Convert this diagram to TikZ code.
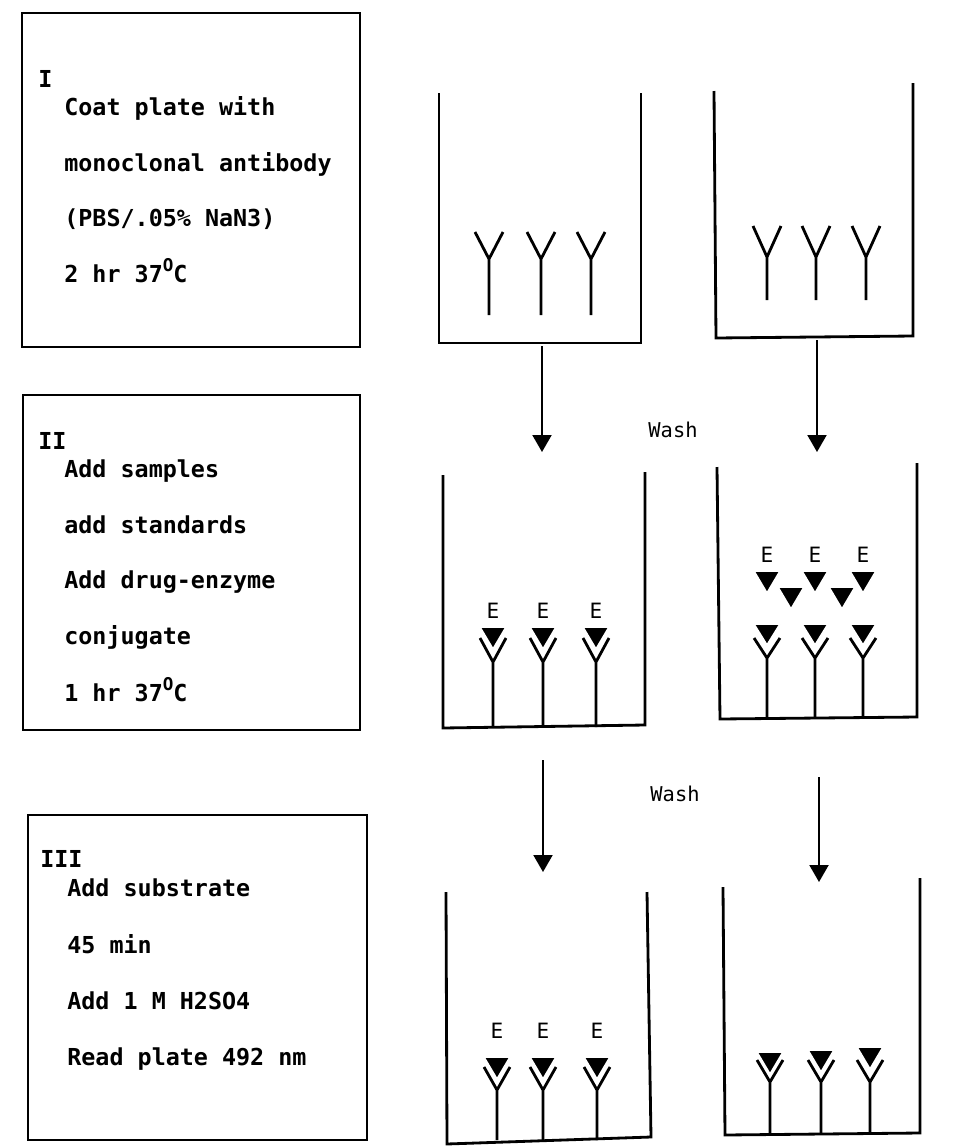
\documentclass[tikz,border=0pt]{standalone}
\usepackage{fontspec}
\newfontfamily\typefont{DejaVu Sans Mono}
\usetikzlibrary{arrows.meta}

\begin{document}
\begin{tikzpicture}[x=0.02cm, y=-0.02cm,
    stepbox/.style={rectangle, draw=black, line width=1.3pt, inner sep=0pt},
    steptxt/.style={anchor=base west, inner sep=0pt,
                    font=\typefont\bfseries\fontsize{13.3}{16}\selectfont},
    well/.style={line width=1.6pt, line join=miter},
    ab/.style={line width=1.6pt},
    enz/.style={fill=black, draw=white, line width=0.9pt, line join=miter},
    elab/.style={anchor=base, inner sep=0pt, font=\typefont\fontsize{12}{14}\selectfont},
    flow/.style={-{Triangle[length=0.34cm, width=0.38cm]}, line width=1.2pt},
    washlab/.style={inner sep=0pt, font=\typefont\fontsize{11.6}{14}\selectfont}
]
\useasboundingbox (0,0) rectangle (979,1147);

% --- step boxes on the left ---
\node[stepbox, minimum width=6.76cm, minimum height=6.68cm] (boxI)   at (191,180) {};
\node[stepbox, minimum width=6.74cm, minimum height=6.70cm] (boxII)  at (191.5,562.5) {};
\node[stepbox, minimum width=6.78cm, minimum height=6.50cm] (boxIII) at (197.5,977.5) {};

\newcommand{\degC}{\raisebox{0.45em}{\fontsize{10}{10}\selectfont O}C}

% --- step texts ---
\node[steptxt] (numI) at (38,87) {I};
\foreach \t/\y [count=\i] in {{Coat plate with}/115, {monoclonal antibody}/171,
                              {(PBS/.05\% NaN3)}/226, {2 hr 37\degC}/282}
  \node[steptxt] (txtI-\i) at (64,\y) {\t};

\node[steptxt] (numII) at (38,449) {II};
\foreach \t/\y [count=\i] in {{Add samples}/477, {add standards}/533,
                              {Add drug-enzyme}/588, {conjugate}/644, {1 hr 37\degC}/701}
  \node[steptxt] (txtII-\i) at (64,\y) {\t};

\node[steptxt] (numIII) at (40,867) {III};
\foreach \t/\y [count=\i] in {{Add substrate}/896, {45 min}/953,
                              {Add 1 M H2SO4}/1009, {Read plate 492 nm}/1065}
  \node[steptxt] (txtIII-\i) at (67,\y) {\t};

% --- wells ---
\draw[well] (439,93)  -- (439,343)  -- (641,343)  -- (641,93);
\draw[well] (714,91)  -- (716,338)  -- (913,336)  -- (913,83);
\draw[well] (443,475) -- (443,728)  -- (645,725)  -- (645,472);
\draw[well] (717,467) -- (720,719)  -- (917,717)  -- (917,463);
\draw[well] (446,892) -- (447,1144) -- (651,1137) -- (647,892);
\draw[well] (723,887) -- (725,1135) -- (920,1133) -- (920,878);

% --- row 1: coated antibodies ---
\foreach \x in {489,541,591}
  \draw[ab] (\x,315) -- (\x,259) -- +(-14,-27) (\x,259) -- +(14,-27);
\foreach \x in {767,816,866}
  \draw[ab] (\x,300) -- (\x,257) -- +(-14,-31) (\x,257) -- +(14,-31);

% --- row 2: bound and free conjugate ---
\foreach \x in {493,543,596} {
  \draw[ab] (\x,727) -- (\x,662) -- +(-13,-24) (\x,662) -- +(13,-24);
  \filldraw[enz] ({\x-13},627) -- ({\x+13},627) -- (\x,649) -- cycle;
  \node[elab] (eC\x) at (\x,618) {E};
}
\foreach \x in {767,815,863} {
  \draw[ab] (\x,718) -- (\x,658) -- +(-13,-20) (\x,658) -- +(13,-20);
  \filldraw[enz] ({\x-13},624) -- ({\x+13},624) -- (\x,645) -- cycle;
  \filldraw[enz] ({\x-13},571) -- ({\x+13},571) -- (\x,593) -- cycle;
  \node[elab] (eD\x) at (\x,562) {E};
}
\foreach \x in {791,842}
  \filldraw[enz] ({\x-13},587) -- ({\x+13},587) -- (\x,609) -- cycle;

% --- row 3: after substrate ---
\foreach \x in {497,543,597} {
  \draw[ab] (\x,1140) -- (\x,1090) -- +(-13,-23) (\x,1090) -- +(13,-23);
  \filldraw[enz] ({\x-13},1057) -- ({\x+13},1057) -- (\x,1079) -- cycle;
  \node[elab] (eE\x) at (\x,1038) {E};
}
\foreach \x/\t in {770/1052,821/1050,870/1047} {
  \draw[ab] (\x,1134) -- (\x,1082) -- +(-13,-22) (\x,1082) -- +(13,-22);
  \filldraw[enz] ({\x-13},\t) -- ({\x+13},\t) -- (\x,{\t+22}) -- cycle;
}

% --- wash arrows ---
\coordinate (a1s) at (542,346);  \coordinate (a1e) at (542,452);
\coordinate (b1s) at (817,340);  \coordinate (b1e) at (817,452);
\coordinate (a2s) at (543,760);  \coordinate (a2e) at (543,872);
\coordinate (b2s) at (819,777);  \coordinate (b2e) at (819,882);
\draw[flow] (a1s) -- (a1e);
\draw[flow] (b1s) -- (b1e);
\draw[flow] (a2s) -- (a2e);
\draw[flow] (b2s) -- (b2e);
\node[washlab] (wash1) at (673,430) {Wash};
\node[washlab] (wash2) at (675,794) {Wash};

\end{tikzpicture}
\end{document}
